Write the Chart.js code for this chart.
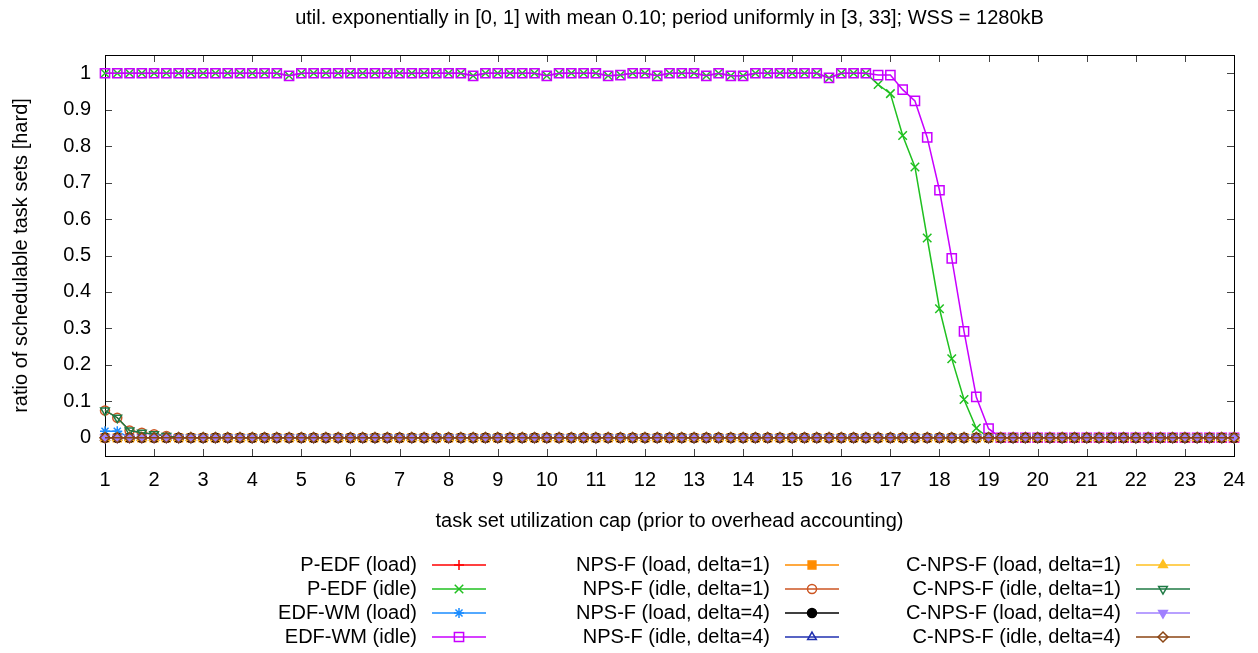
<!DOCTYPE html>
<html>
<head>
<meta charset="utf-8">
<title>ratio of schedulable task sets</title>
<script src="https://cdn.jsdelivr.net/npm/chart.js@4.4.1/dist/chart.umd.min.js"></script>
<style>
  html, body { margin: 0; padding: 0; background: #fff; }
  #wrap { width: 1258px; height: 653px; }
</style>
</head>
<body>
<div id="wrap"><canvas id="chart" width="1258" height="653"></canvas></div>
<script>
// utilization cap steps (x)
const xValues = [
  1, 1.25, 1.5, 1.75, 2, 2.25, 2.5, 2.75, 3, 3.25, 3.5, 3.75,
  4, 4.25, 4.5, 4.75, 5, 5.25, 5.5, 5.75, 6, 6.25, 6.5, 6.75,
  7, 7.25, 7.5, 7.75, 8, 8.25, 8.5, 8.75, 9, 9.25, 9.5, 9.75,
  10, 10.25, 10.5, 10.75, 11, 11.25, 11.5, 11.75, 12, 12.25, 12.5, 12.75,
  13, 13.25, 13.5, 13.75, 14, 14.25, 14.5, 14.75, 15, 15.25, 15.5, 15.75,
  16, 16.25, 16.5, 16.75, 17, 17.25, 17.5, 17.75, 18, 18.25, 18.5, 18.75,
  19, 19.25, 19.5, 19.75, 20, 20.25, 20.5, 20.75, 21, 21.25, 21.5, 21.75,
  22, 22.25, 22.5, 22.75, 23, 23.25, 23.5, 23.75, 24
];
const xTicks = [1, 2, 3, 4, 5, 6, 7, 8, 9, 10, 11, 12, 13, 14, 15, 16, 17, 18, 19, 20, 21, 22, 23, 24];
const yTicks = [0, 0.1, 0.2, 0.3, 0.4, 0.5, 0.6, 0.7, 0.8, 0.9, 1];

const seriesNames = [
  'P-EDF (load)', 'P-EDF (idle)', 'EDF-WM (load)', 'EDF-WM (idle)',
  'NPS-F (load, delta=1)', 'NPS-F (idle, delta=1)', 'NPS-F (load, delta=4)', 'NPS-F (idle, delta=4)',
  'C-NPS-F (load, delta=1)', 'C-NPS-F (idle, delta=1)', 'C-NPS-F (load, delta=4)', 'C-NPS-F (idle, delta=4)'
];

const allZero = [
  0, 0, 0, 0, 0, 0, 0, 0, 0, 0, 0, 0,
  0, 0, 0, 0, 0, 0, 0, 0, 0, 0, 0, 0,
  0, 0, 0, 0, 0, 0, 0, 0, 0, 0, 0, 0,
  0, 0, 0, 0, 0, 0, 0, 0, 0, 0, 0, 0,
  0, 0, 0, 0, 0, 0, 0, 0, 0, 0, 0, 0,
  0, 0, 0, 0, 0, 0, 0, 0, 0, 0, 0, 0,
  0, 0, 0, 0, 0, 0, 0, 0, 0, 0, 0, 0,
  0, 0, 0, 0, 0, 0, 0, 0, 0
];

const pedfIdle = [
  1, 1, 1, 1, 1, 1, 1, 1, 1, 1, 1, 1,
  1, 1, 1, 0.993, 1, 1, 1, 1, 1, 1, 1, 1,
  1, 1, 1, 1, 1, 1, 0.993, 1, 1, 1, 1, 1,
  0.993, 1, 1, 1, 1, 0.993, 0.995, 1, 1, 0.993, 1, 1,
  1, 0.993, 1, 0.993, 0.993, 1, 1, 1, 1, 1, 1, 0.987,
  1, 1, 1, 0.969, 0.944, 0.829, 0.743, 0.548, 0.354, 0.217, 0.105, 0.026,
  0, 0, 0, 0, 0, 0, 0, 0, 0, 0, 0, 0,
  0, 0, 0, 0, 0, 0, 0, 0, 0
];

const edfwmLoad = [
  0.018, 0.018, 0, 0, 0, 0, 0, 0, 0, 0, 0, 0,
  0, 0, 0, 0, 0, 0, 0, 0, 0, 0, 0, 0,
  0, 0, 0, 0, 0, 0, 0, 0, 0, 0, 0, 0,
  0, 0, 0, 0, 0, 0, 0, 0, 0, 0, 0, 0,
  0, 0, 0, 0, 0, 0, 0, 0, 0, 0, 0, 0,
  0, 0, 0, 0, 0, 0, 0, 0, 0, 0, 0, 0,
  0, 0, 0, 0, 0, 0, 0, 0, 0, 0, 0, 0,
  0, 0, 0, 0, 0, 0, 0, 0, 0
];

const edfwmIdle = [
  1, 1, 1, 1, 1, 1, 1, 1, 1, 1, 1, 1,
  1, 1, 1, 0.993, 1, 1, 1, 1, 1, 1, 1, 1,
  1, 1, 1, 1, 1, 1, 0.993, 1, 1, 1, 1, 1,
  0.993, 1, 1, 1, 1, 0.993, 0.995, 1, 1, 0.993, 1, 1,
  1, 0.993, 1, 0.993, 0.993, 1, 1, 1, 1, 1, 1, 0.987,
  1, 1, 1, 0.995, 0.995, 0.955, 0.924, 0.824, 0.679, 0.492, 0.292, 0.112,
  0.025, 0, 0, 0, 0, 0, 0, 0, 0, 0, 0, 0,
  0, 0, 0, 0, 0, 0, 0, 0, 0
];

// idle, delta=1 variants start slightly above zero
const npsfIdle1 = [
  0.075, 0.055, 0.02, 0.014, 0.01, 0.005, 0, 0, 0, 0, 0, 0,
  0, 0, 0, 0, 0, 0, 0, 0, 0, 0, 0, 0,
  0, 0, 0, 0, 0, 0, 0, 0, 0, 0, 0, 0,
  0, 0, 0, 0, 0, 0, 0, 0, 0, 0, 0, 0,
  0, 0, 0, 0, 0, 0, 0, 0, 0, 0, 0, 0,
  0, 0, 0, 0, 0, 0, 0, 0, 0, 0, 0, 0,
  0, 0, 0, 0, 0, 0, 0, 0, 0, 0, 0, 0,
  0, 0, 0, 0, 0, 0, 0, 0, 0
];
const cnpsfIdle1 = npsfIdle1;

const pedfLoad = allZero;
const npsfLoad1 = allZero;
const npsfLoad4 = allZero;
const npsfIdle4 = allZero;
const cnpsfLoad1 = allZero;
const cnpsfLoad4 = allZero;
const cnpsfIdle4 = allZero;

const seriesValues = [
  pedfLoad, pedfIdle, edfwmLoad, edfwmIdle,
  npsfLoad1, npsfIdle1, npsfLoad4, npsfIdle4,
  cnpsfLoad1, cnpsfIdle1, cnpsfLoad4, cnpsfIdle4
];

// look of each series, same order as the names
const seriesStyles = [
  { color: '#ff0000', shape: 'cross',    r: 5,   filled: false, rot: 0 },
  { color: '#20c020', shape: 'crossRot', r: 6,   filled: false, rot: 0 },
  { color: '#1a8cff', shape: 'star',     r: 5,   filled: false, rot: 0 },
  { color: '#c800ff', shape: 'rect',     r: 6.5, filled: false, rot: 0 },
  { color: '#ff8c00', shape: 'rect',     r: 5.5, filled: true,  rot: 0 },
  { color: '#cc5522', shape: 'circle',   r: 4.5, filled: false, rot: 0 },
  { color: '#000000', shape: 'circle',   r: 4.5, filled: true,  rot: 0 },
  { color: '#2030b0', shape: 'triangle', r: 5,   filled: false, rot: 0 },
  { color: '#ffc020', shape: 'triangle', r: 5,   filled: true,  rot: 0 },
  { color: '#1f7a45', shape: 'triangle', r: 5,   filled: false, rot: 180 },
  { color: '#a080ff', shape: 'triangle', r: 5,   filled: true,  rot: 180 },
  { color: '#8b4513', shape: 'rectRot',  r: 5,   filled: false, rot: 0 }
];

const FONT = '20px "Liberation Sans", Arial, sans-serif';
const TITLE = 'util. exponentially in [0, 1] with mean 0.10; period uniformly in [3, 33]; WSS = 1280kB';
const X_TITLE = 'task set utilization cap (prior to overhead accounting)';
const Y_TITLE = 'ratio of schedulable task sets [hard]';

const legendTextRight = [417, 770, 1121];
const legendTop = 565;
const legendRowGap = 24;

function drawMarker(ctx, st, x, y) {
  ctx.strokeStyle = st.color;
  ctx.fillStyle = st.filled ? st.color : 'rgba(0,0,0,0)';
  ctx.lineWidth = 1.5;
  Chart.helpers.drawPoint(ctx, { pointStyle: st.shape, radius: st.r, rotation: st.rot, borderWidth: 1.5 }, x, y);
}

const gnuplotFrame = {
  id: 'gnuplotFrame',
  beforeDatasetsDraw(chart) {
    const { ctx, chartArea: a, scales } = chart;
    ctx.save();
    ctx.strokeStyle = '#444';
    ctx.lineWidth = 1;
    ctx.beginPath();
    xTicks.forEach(v => {
      const px = Math.round(scales.x.getPixelForValue(v)) + 0.5;
      ctx.moveTo(px, a.bottom); ctx.lineTo(px, a.bottom - 7);
      ctx.moveTo(px, a.top); ctx.lineTo(px, a.top + 7);
    });
    yTicks.forEach(v => {
      const py = Math.round(scales.y.getPixelForValue(v)) + 0.5;
      ctx.moveTo(a.left, py); ctx.lineTo(a.left + 7, py);
      ctx.moveTo(a.right, py); ctx.lineTo(a.right - 7, py);
    });
    ctx.stroke();
    ctx.strokeStyle = '#000';
    ctx.strokeRect(Math.round(a.left) + 0.5, Math.round(a.top) + 0.5,
      Math.round(a.right - a.left), Math.round(a.bottom - a.top));
    ctx.restore();
  },
  afterDraw(chart) {
    const { ctx, chartArea: a } = chart;
    const cx = (a.left + a.right) / 2;
    ctx.save();
    ctx.fillStyle = '#000';
    ctx.font = FONT;
    ctx.textAlign = 'center';
    ctx.textBaseline = 'middle';
    ctx.fillText(TITLE, cx, 18);
    ctx.fillText(X_TITLE, cx, 521);

    ctx.save();
    ctx.translate(21, (a.top + a.bottom) / 2);
    ctx.rotate(-Math.PI / 2);
    ctx.fillText(Y_TITLE, 0, 0);
    ctx.restore();

    // key, three columns of four, text left of the sample
    seriesNames.forEach((name, i) => {
      const col = Math.floor(i / 4);
      const row = i % 4;
      const y = legendTop + row * legendRowGap;
      const right = legendTextRight[col];
      const st = seriesStyles[i];
      ctx.fillStyle = '#000';
      ctx.textAlign = 'right';
      ctx.fillText(name, right, y);
      ctx.strokeStyle = st.color;
      ctx.lineWidth = 1.5;
      ctx.beginPath();
      ctx.moveTo(right + 15, y);
      ctx.lineTo(right + 69, y);
      ctx.stroke();
      drawMarker(ctx, st, right + 42, y);
    });
    ctx.restore();
  }
};

const ctx = document.getElementById('chart').getContext('2d');
new Chart(ctx, {
  type: 'line',
  data: {
    datasets: seriesNames.map((name, i) => {
      const st = seriesStyles[i];
      return {
        label: name,
        data: seriesValues[i].map((v, j) => ({ x: xValues[j], y: v })),
        borderColor: st.color,
        backgroundColor: st.color,
        borderWidth: 1.5,
        pointStyle: st.shape,
        pointRadius: st.r,
        pointRotation: st.rot,
        pointBorderColor: st.color,
        pointBackgroundColor: st.filled ? st.color : 'rgba(0,0,0,0)',
        pointBorderWidth: 1.5,
        tension: 0,
        clip: false,
        order: -i
      };
    })
  },
  options: {
    responsive: false,
    animation: false,
    devicePixelRatio: 1,
    layout: { padding: { left: 0, right: 24, top: 55, bottom: 0 } },
    scales: {
      x: {
        type: 'linear',
        min: 1,
        max: 24,
        afterBuildTicks: scale => { scale.ticks = xTicks.map(v => ({ value: v })); },
        afterFit: scale => { scale.height = 197; },
        grid: { display: false, drawTicks: false },
        border: { display: false },
        ticks: { font: { family: '"Liberation Sans", Arial, sans-serif', size: 20 }, color: '#000', padding: 12, maxRotation: 0, autoSkip: false }
      },
      y: {
        min: -0.05,
        max: 1.05,
        afterBuildTicks: scale => { scale.ticks = yTicks.map(v => ({ value: v })); },
        afterFit: scale => { scale.width = 105; },
        grid: { display: false, drawTicks: false },
        border: { display: false },
        ticks: { font: { family: '"Liberation Sans", Arial, sans-serif', size: 20 }, color: '#000', padding: 14, callback: v => String(v) }
      }
    },
    plugins: {
      legend: { display: false },
      title: { display: false },
      tooltip: { enabled: false }
    }
  },
  plugins: [gnuplotFrame]
});
</script>
</body>
</html>
